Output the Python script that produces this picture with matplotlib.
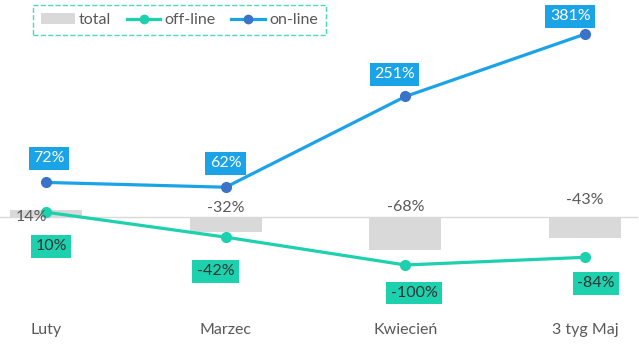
import matplotlib.pyplot as plt
from matplotlib.patches import Patch
from matplotlib.lines import Line2D

plt.rcParams['font.family'] = ['Lato', 'DejaVu Sans']

months = ['Luty', 'Marzec', 'Kwiecień', '3 tyg Maj']
total = [14, -32, -68, -43]
offline = [10, -42, -100, -84]
online = [72, 62, 251, 381]

BLUE = '#1aa3e6'
BLUE_DOT = '#3b73c8'
GREEN = '#1dd0ae'
GREY = '#d9d9d9'
TXT = '#595959'
FS = 11.5

fig = plt.figure(figsize=(6.39, 3.49), dpi=100)
ax = fig.add_axes([0, 0, 1, 1])
ax.set_xlim(-0.256, 3.30)
ax.set_ylim(-275, 452)
ax.axis('off')

x = range(len(months))
ax.axhline(0, color='#d9d9d9', lw=1, xmin=0, xmax=0.997, zorder=1)
ax.bar(x, total, width=0.4, color=GREY, zorder=2)
ax.plot(x, offline, color=GREEN, lw=2.3, marker='o', ms=7, mfc=GREEN, mec=GREEN, zorder=3)
ax.plot(x, online, color=BLUE, lw=2.3, marker='o', ms=7, mfc=BLUE_DOT, mec=BLUE_DOT, zorder=3)

# label offsets in pixels (dx, dy)
on_off = [(3, 24), (0, 24), (-11, 22), (-15, 18)]
off_off = [(5, -34), (-10, -34), (9, -28), (11, -26)]
tot_off = [(-15, 0), (0, 9), (0, 10), (0, 17)]

for i in x:
    ax.annotate(f'{online[i]}%', (i, online[i]), xytext=on_off[i], textcoords='offset pixels',
                ha='center', va='center', fontsize=FS, color='white', zorder=5,
                bbox=dict(boxstyle='square,pad=0.28', fc=BLUE, ec='none'))
    ax.annotate(f'{offline[i]}%', (i, offline[i]), xytext=off_off[i], textcoords='offset pixels',
                ha='center', va='center', fontsize=FS, color='#333333', zorder=5,
                bbox=dict(boxstyle='square,pad=0.28', fc=GREEN, ec='none'))
    ax.annotate(f'{total[i]}%', (i, max(total[i], 0) if i else 0), xytext=tot_off[i],
                textcoords='offset pixels', ha='center', va='center', fontsize=FS,
                color=TXT, zorder=4)
    ax.text(i, 0.054, months[i], transform=ax.get_xaxis_transform(),
            ha='center', va='center', fontsize=FS, color=TXT)

handles = [Patch(fc=GREY, ec='none'),
           Line2D([], [], color=GREEN, lw=2.3, marker='o', ms=6),
           Line2D([], [], color=BLUE, lw=2.3, marker='o', ms=6, mfc=BLUE_DOT, mec=BLUE_DOT)]
leg = ax.legend(handles, ['total', 'off-line', 'on-line'], ncol=3, loc='upper left',
                bbox_to_anchor=(33 / 639, 1 - 5 / 349), frameon=True, fancybox=False,
                fontsize=FS, handlelength=2.1, handletextpad=0.25, columnspacing=1.0,
                borderpad=0.5, borderaxespad=0, labelcolor=TXT)
fr = leg.get_frame()
fr.set_edgecolor(GREEN)
fr.set_linestyle('--')
fr.set_linewidth(1)

fig.savefig('out.png', dpi=100)
